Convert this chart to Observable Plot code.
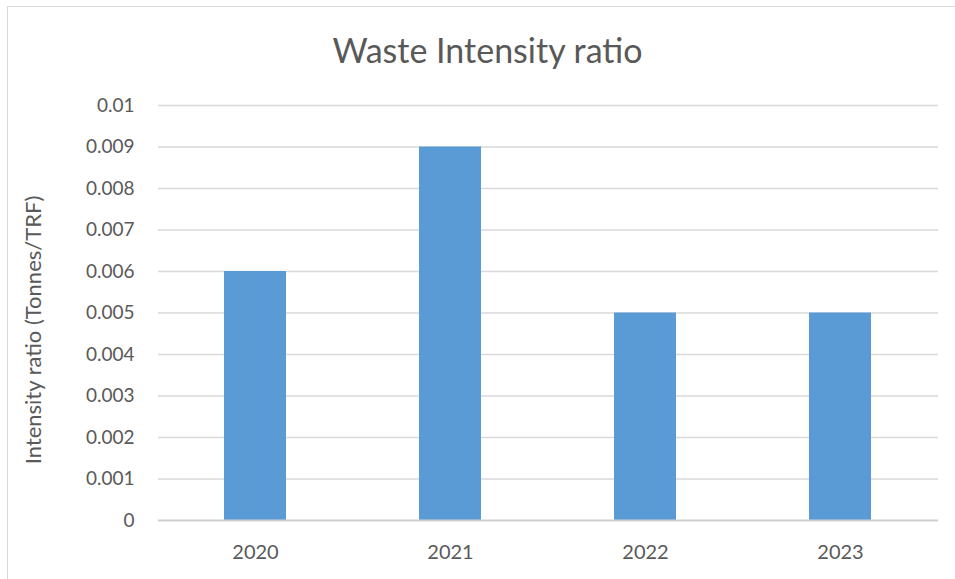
<!DOCTYPE html>
<html>
<head>
<meta charset="utf-8">
<script src="https://cdn.jsdelivr.net/npm/d3@7"></script>
<script src="https://cdn.jsdelivr.net/npm/@observablehq/plot@0.6"></script>
<style>
  body { margin: 0; background: #fff; }
  #wrap { position: relative; width: 955px; height: 579px; overflow: hidden; font-family: Lato, "Open Sans", sans-serif; }
  #frame { position: absolute; left: 7px; top: 6px; width: 1000px; height: 1000px; border: 1.5px solid #d9d9d9; box-sizing: border-box; }
  #title { position: absolute; left: 0; width: 975px; top: 30px; text-align: center; font-size: 34px; color: #595959; line-height: 40px; }
  #chart { position: absolute; left: 0; top: 80px; }
</style>
</head>
<body>
<div id="wrap">
  <div id="frame"></div>
  <div id="title">Waste Intensity ratio</div>
  <div id="chart"></div>
</div>
<script>
const years = ["2020", "2021", "2022", "2023"];
const ratios = [0.006, 0.009, 0.005, 0.005];
const yTicks = [0, 0.001, 0.002, 0.003, 0.004, 0.005, 0.006, 0.007, 0.008, 0.009, 0.01];
const yTickLabels = ["0", "0.001", "0.002", "0.003", "0.004", "0.005", "0.006", "0.007", "0.008", "0.009", "0.01"];
const yLabel = "Intensity ratio (Tonnes/TRF)";

const data = years.map((y, i) => ({year: y, value: ratios[i]}));
const grid = yTicks.filter(t => t > 0);

const chart = Plot.plot({
  width: 955,
  height: 499,
  marginTop: 25,
  marginBottom: 59,
  marginLeft: 158,
  marginRight: 17,
  style: {fontFamily: "Lato, 'Open Sans', sans-serif", fontSize: "19px", color: "#595959", background: "transparent", overflow: "visible"},
  x: {domain: years, paddingInner: 0.682, paddingOuter: 0.341, label: null},
  y: {domain: [0, 0.01], label: null},
  marks: [
    Plot.ruleY(grid, {stroke: "#d9d9d9", strokeWidth: 1.3}),
    Plot.barY(data, {x: "year", y: "value", fill: "#5b9bd5"}),
    Plot.ruleY([0], {stroke: "#d0d0d0", strokeWidth: 2}),
    Plot.axisY({ticks: yTicks, tickFormat: d => yTickLabels[yTicks.indexOf(d)], tickSize: 0, tickPadding: 24, label: null, fontSize: 19, fill: "#595959"}),
    Plot.axisX({tickSize: 0, tickPadding: 24, label: null, fontSize: 20, fill: "#595959"}),
    Plot.text([yLabel], {frameAnchor: "left", textAnchor: "middle", dx: -125, dy: 17, rotate: -90, fontSize: 22, fill: "#595959", text: d => d})
  ]
});
document.getElementById("chart").appendChild(chart);
</script>
</body>
</html>
